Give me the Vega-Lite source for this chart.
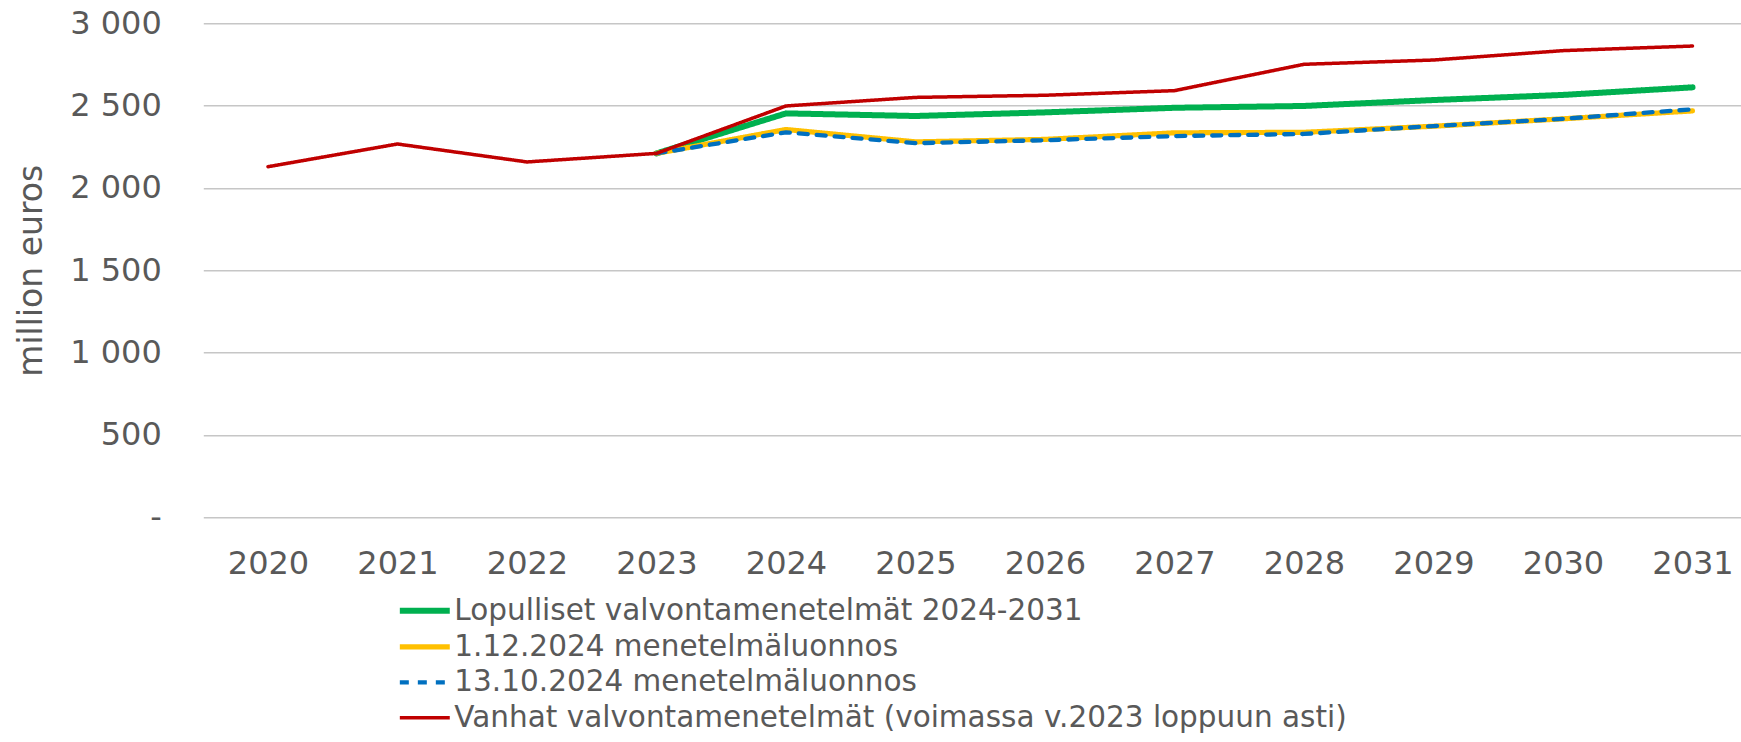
{
  "$schema": "https://vega.github.io/schema/vega-lite/v6.json",
  "autosize": "none",
  "padding": {"left": 203.3, "top": 23.3, "right": 0, "bottom": 224.7},
  "width": 1537.7,
  "height": 494,
  "config": {
    "font": "DejaVu Sans",
    "view": {"stroke": null},
    "axis": {"labelColor": "#595959", "titleColor": "#595959"},
    "legend": {"labelColor": "#595959"}
  },
  "data": {
    "values": [
      {"year": 2023, "series": "Lopulliset valvontamenetelmät 2024-2031", "value": 2210},
      {"year": 2024, "series": "Lopulliset valvontamenetelmät 2024-2031", "value": 2453},
      {"year": 2025, "series": "Lopulliset valvontamenetelmät 2024-2031", "value": 2437},
      {"year": 2026, "series": "Lopulliset valvontamenetelmät 2024-2031", "value": 2459},
      {"year": 2027, "series": "Lopulliset valvontamenetelmät 2024-2031", "value": 2487},
      {"year": 2028, "series": "Lopulliset valvontamenetelmät 2024-2031", "value": 2498},
      {"year": 2029, "series": "Lopulliset valvontamenetelmät 2024-2031", "value": 2534},
      {"year": 2030, "series": "Lopulliset valvontamenetelmät 2024-2031", "value": 2565},
      {"year": 2031, "series": "Lopulliset valvontamenetelmät 2024-2031", "value": 2611},
      {"year": 2023, "series": "1.12.2024 menetelmäluonnos", "value": 2210},
      {"year": 2024, "series": "1.12.2024 menetelmäluonnos", "value": 2355},
      {"year": 2025, "series": "1.12.2024 menetelmäluonnos", "value": 2280},
      {"year": 2026, "series": "1.12.2024 menetelmäluonnos", "value": 2295},
      {"year": 2027, "series": "1.12.2024 menetelmäluonnos", "value": 2335},
      {"year": 2028, "series": "1.12.2024 menetelmäluonnos", "value": 2338},
      {"year": 2029, "series": "1.12.2024 menetelmäluonnos", "value": 2375},
      {"year": 2030, "series": "1.12.2024 menetelmäluonnos", "value": 2420},
      {"year": 2031, "series": "1.12.2024 menetelmäluonnos", "value": 2468},
      {"year": 2023, "series": "13.10.2024 menetelmäluonnos", "value": 2210},
      {"year": 2024, "series": "13.10.2024 menetelmäluonnos", "value": 2338},
      {"year": 2025, "series": "13.10.2024 menetelmäluonnos", "value": 2272},
      {"year": 2026, "series": "13.10.2024 menetelmäluonnos", "value": 2290},
      {"year": 2027, "series": "13.10.2024 menetelmäluonnos", "value": 2315},
      {"year": 2028, "series": "13.10.2024 menetelmäluonnos", "value": 2328},
      {"year": 2029, "series": "13.10.2024 menetelmäluonnos", "value": 2376},
      {"year": 2030, "series": "13.10.2024 menetelmäluonnos", "value": 2420},
      {"year": 2031, "series": "13.10.2024 menetelmäluonnos", "value": 2478},
      {"year": 2020, "series": "Vanhat valvontamenetelmät (voimassa v.2023 loppuun asti)", "value": 2129},
      {"year": 2021, "series": "Vanhat valvontamenetelmät (voimassa v.2023 loppuun asti)", "value": 2267},
      {"year": 2022, "series": "Vanhat valvontamenetelmät (voimassa v.2023 loppuun asti)", "value": 2158},
      {"year": 2023, "series": "Vanhat valvontamenetelmät (voimassa v.2023 loppuun asti)", "value": 2210},
      {"year": 2024, "series": "Vanhat valvontamenetelmät (voimassa v.2023 loppuun asti)", "value": 2498},
      {"year": 2025, "series": "Vanhat valvontamenetelmät (voimassa v.2023 loppuun asti)", "value": 2550},
      {"year": 2026, "series": "Vanhat valvontamenetelmät (voimassa v.2023 loppuun asti)", "value": 2563},
      {"year": 2027, "series": "Vanhat valvontamenetelmät (voimassa v.2023 loppuun asti)", "value": 2591},
      {"year": 2028, "series": "Vanhat valvontamenetelmät (voimassa v.2023 loppuun asti)", "value": 2751},
      {"year": 2029, "series": "Vanhat valvontamenetelmät (voimassa v.2023 loppuun asti)", "value": 2777},
      {"year": 2030, "series": "Vanhat valvontamenetelmät (voimassa v.2023 loppuun asti)", "value": 2834},
      {"year": 2031, "series": "Vanhat valvontamenetelmät (voimassa v.2023 loppuun asti)", "value": 2862}
    ]
  },
  "mark": {"type": "line", "strokeCap": "round", "strokeJoin": "round"},
  "encoding": {
    "x": {
      "field": "year",
      "type": "ordinal",
      "scale": {"type": "point", "domain": [2020, 2021, 2022, 2023, 2024, 2025, 2026, 2027, 2028, 2029, 2030, 2031], "padding": 0.437, "align": 0.5716},
      "axis": {"title": null, "labelAngle": 0, "labelFontSize": 32, "labelPadding": 31, "ticks": false, "domain": false, "grid": false}
    },
    "y": {
      "field": "value",
      "type": "quantitative",
      "scale": {"domain": [0, 3000], "nice": false, "zero": true},
      "axis": {
        "values": [0, 500, 1000, 1500, 2000, 2500, 3000],
        "labelExpr": "datum.value == 0 ? '-\u00a0\u00a0' : replace(format(datum.value, ','), ',', ' ')",
        "labelFontSize": 32,
        "labelPadding": 42,
        "ticks": false,
        "domain": false,
        "grid": true,
        "gridColor": "#C6C6C6",
        "gridWidth": 1.5,
        "title": "million euros",
        "titleFontSize": 33,
        "titleFontWeight": "normal",
        "titleAngle": -90,
        "titleX": -172,
        "titleY": 247,
        "titleAlign": "center",
        "titleBaseline": "middle"
      }
    },
    "color": {
      "field": "series",
      "type": "nominal",
      "sort": null,
      "scale": {
        "domain": ["Lopulliset valvontamenetelmät 2024-2031", "1.12.2024 menetelmäluonnos", "13.10.2024 menetelmäluonnos", "Vanhat valvontamenetelmät (voimassa v.2023 loppuun asti)"],
        "range": ["#00B050", "#FFC000", "#0070C0", "#C00000"]
      },
      "legend": {
        "title": null,
        "orient": "none",
        "legendX": 200,
        "legendY": 566,
        "direction": "vertical",
        "symbolType": "M-1.35,0H1.35",
        "symbolSize": 1369,
        "labelFontSize": 29.5,
        "labelOffset": 8,
        "rowPadding": 0,
        "padding": 0,
        "labelLimit": 1200
      }
    },
    "strokeDash": {
      "field": "series",
      "type": "nominal",
      "sort": null,
      "scale": {
        "domain": ["Lopulliset valvontamenetelmät 2024-2031", "1.12.2024 menetelmäluonnos", "13.10.2024 menetelmäluonnos", "Vanhat valvontamenetelmät (voimassa v.2023 loppuun asti)"],
        "range": [[1, 0], [1, 0], [9, 9], [1, 0]]
      },
      "legend": null
    },
    "strokeWidth": {
      "field": "series",
      "type": "nominal",
      "sort": null,
      "scale": {
        "domain": ["Lopulliset valvontamenetelmät 2024-2031", "1.12.2024 menetelmäluonnos", "13.10.2024 menetelmäluonnos", "Vanhat valvontamenetelmät (voimassa v.2023 loppuun asti)"],
        "range": [6, 3.5, 5.5, 5]
      },
      "legend": null
    }
  }
}
